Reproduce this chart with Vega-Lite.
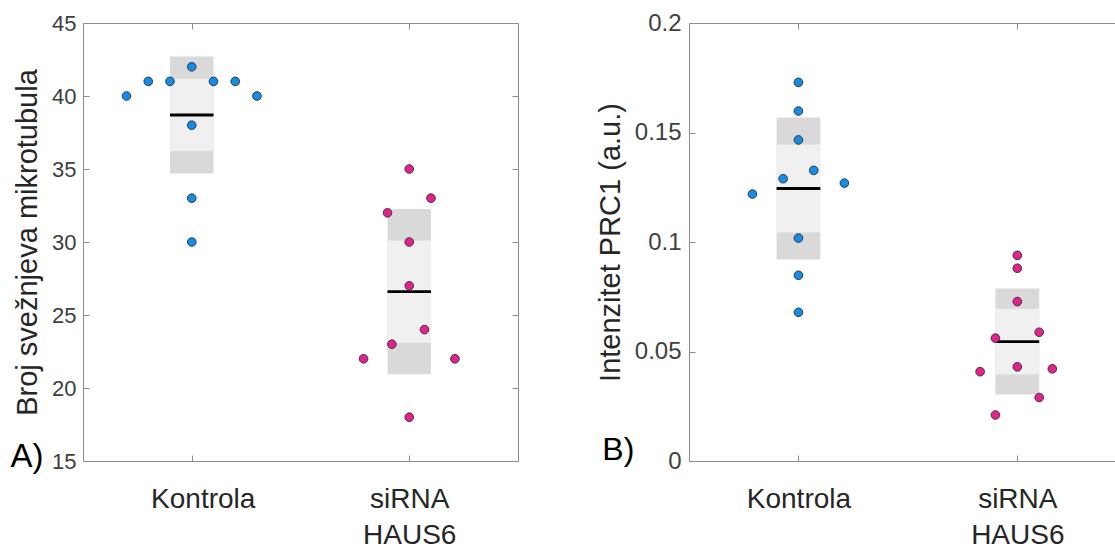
{
  "$schema": "https://vega.github.io/schema/vega-lite/v6.json",
  "background": "white",
  "padding": {"left": 10, "top": 11, "right": 0, "bottom": 0},
  "spacing": 77,
  "config": {
    "view": {"stroke": null},
    "font": "Liberation Sans",
    "axis": {
      "grid": false,
      "domainColor": "#8c8c8c",
      "tickColor": "#8c8c8c",
      "tickSize": -6,
      "labelFont": "Liberation Sans",
      "titleFont": "Liberation Sans",
      "titleFontWeight": "normal"
    }
  },
  "datasets": {
    "a": [
      {"g": "Kontrola", "gi": 1, "jit": -0.30, "v": 40},
      {"g": "Kontrola", "gi": 1, "jit": -0.20, "v": 41},
      {"g": "Kontrola", "gi": 1, "jit": -0.10, "v": 41},
      {"g": "Kontrola", "gi": 1, "jit": 0, "v": 42},
      {"g": "Kontrola", "gi": 1, "jit": 0.10, "v": 41},
      {"g": "Kontrola", "gi": 1, "jit": 0.20, "v": 41},
      {"g": "Kontrola", "gi": 1, "jit": 0.30, "v": 40},
      {"g": "Kontrola", "gi": 1, "jit": 0, "v": 38},
      {"g": "Kontrola", "gi": 1, "jit": 0, "v": 33},
      {"g": "Kontrola", "gi": 1, "jit": 0, "v": 30},
      {"g": "siRNA HAUS6", "gi": 2, "jit": 0, "v": 35},
      {"g": "siRNA HAUS6", "gi": 2, "jit": 0.10, "v": 33},
      {"g": "siRNA HAUS6", "gi": 2, "jit": -0.10, "v": 32},
      {"g": "siRNA HAUS6", "gi": 2, "jit": 0, "v": 30},
      {"g": "siRNA HAUS6", "gi": 2, "jit": 0, "v": 27},
      {"g": "siRNA HAUS6", "gi": 2, "jit": 0.07, "v": 24},
      {"g": "siRNA HAUS6", "gi": 2, "jit": -0.08, "v": 23},
      {"g": "siRNA HAUS6", "gi": 2, "jit": -0.21, "v": 22},
      {"g": "siRNA HAUS6", "gi": 2, "jit": 0.21, "v": 22},
      {"g": "siRNA HAUS6", "gi": 2, "jit": 0, "v": 18}
    ],
    "b": [
      {"g": "Kontrola", "gi": 1, "jit": 0, "v": 0.1729},
      {"g": "Kontrola", "gi": 1, "jit": 0, "v": 0.1598},
      {"g": "Kontrola", "gi": 1, "jit": 0, "v": 0.1466},
      {"g": "Kontrola", "gi": 1, "jit": 0.07, "v": 0.1327},
      {"g": "Kontrola", "gi": 1, "jit": -0.07, "v": 0.1289},
      {"g": "Kontrola", "gi": 1, "jit": 0.21, "v": 0.1269},
      {"g": "Kontrola", "gi": 1, "jit": -0.21, "v": 0.1219},
      {"g": "Kontrola", "gi": 1, "jit": 0, "v": 0.1018},
      {"g": "Kontrola", "gi": 1, "jit": 0, "v": 0.0848},
      {"g": "Kontrola", "gi": 1, "jit": 0, "v": 0.0679},
      {"g": "siRNA HAUS6", "gi": 2, "jit": 0, "v": 0.0939},
      {"g": "siRNA HAUS6", "gi": 2, "jit": 0, "v": 0.0880},
      {"g": "siRNA HAUS6", "gi": 2, "jit": 0, "v": 0.0728},
      {"g": "siRNA HAUS6", "gi": 2, "jit": 0.10, "v": 0.0588},
      {"g": "siRNA HAUS6", "gi": 2, "jit": -0.10, "v": 0.0561},
      {"g": "siRNA HAUS6", "gi": 2, "jit": 0, "v": 0.0430},
      {"g": "siRNA HAUS6", "gi": 2, "jit": 0.16, "v": 0.0421},
      {"g": "siRNA HAUS6", "gi": 2, "jit": -0.17, "v": 0.0408},
      {"g": "siRNA HAUS6", "gi": 2, "jit": 0.10, "v": 0.0290},
      {"g": "siRNA HAUS6", "gi": 2, "jit": -0.10, "v": 0.0210}
    ]
  },
  "hconcat": [
    {
      "width": 435,
      "height": 438,
      "title": {"text": "A)", "orient": "left", "anchor": "start", "angle": 0, "align": "left", "baseline": "alphabetic", "fontSize": 33, "fontWeight": "normal", "color": "#000000", "offset": -30, "dy": -82},
      "data": {"name": "a"},
      "layer": [
        {
          "transform": [
            {"aggregate": [{"op": "mean", "field": "v", "as": "m"}, {"op": "stdev", "field": "v", "as": "sd"}, {"op": "count", "as": "n"}], "groupby": ["gi"]},
            {"calculate": "datum.m - datum.sd", "as": "lo"},
            {"calculate": "datum.m + datum.sd", "as": "hi"},
            {"calculate": "datum.gi - 0.1", "as": "xl"},
            {"calculate": "datum.gi + 0.1", "as": "xr"}
          ],
          "mark": {"type": "rect", "color": "#d9d9d9"},
          "encoding": {
            "x": {"field": "xl", "type": "quantitative", "scale": {"domain": [0.5, 2.5], "nice": false, "zero": false},
              "axis": {"orient": "bottom", "values": [1, 2], "title": null, "labelFontSize": 28, "labelColor": "#262626", "labelPadding": 30, "labelLineHeight": 36,
                "labelOffset": {"condition": {"test": "datum.value == 1", "value": 11}, "value": 0},
                "labelExpr": "datum.value == 1 ? 'Kontrola' : ['siRNA', 'HAUS6']"}},
            "x2": {"field": "xr"},
            "y": {"field": "lo", "type": "quantitative", "scale": {"domain": [15, 45], "nice": false, "zero": false},
              "axis": {"orient": "left", "values": [15, 20, 25, 30, 35, 40, 45], "labelFontSize": 22, "labelColor": "#404040", "labelPadding": 13,
                "title": "Broj svežnjeva mikrotubula", "titleFontSize": 29, "titleColor": "#262626", "titlePadding": 9}},
            "y2": {"field": "hi"}
          }
        },
        {
          "transform": [
            {"aggregate": [{"op": "mean", "field": "v", "as": "m"}, {"op": "stdev", "field": "v", "as": "sd"}, {"op": "count", "as": "n"}], "groupby": ["gi"]},
            {"calculate": "datum.m - 1.96 * datum.sd / sqrt(datum.n)", "as": "clo"},
            {"calculate": "datum.m + 1.96 * datum.sd / sqrt(datum.n)", "as": "chi"},
            {"calculate": "datum.gi - 0.1", "as": "xl"},
            {"calculate": "datum.gi + 0.1", "as": "xr"}
          ],
          "mark": {"type": "rect", "color": "#f0f0f0"},
          "encoding": {
            "x": {"field": "xl", "type": "quantitative", "axis": {"orient": "top", "values": [1, 2], "labels": false, "title": null}},
            "x2": {"field": "xr"},
            "y": {"field": "clo", "type": "quantitative", "axis": {"orient": "right", "values": [15, 20, 25, 30, 35, 40, 45], "labels": false, "title": null}},
            "y2": {"field": "chi"}
          }
        },
        {
          "transform": [
            {"aggregate": [{"op": "mean", "field": "v", "as": "m"}], "groupby": ["gi"]},
            {"calculate": "datum.gi - 0.1", "as": "xl"},
            {"calculate": "datum.gi + 0.1", "as": "xr"}
          ],
          "mark": {"type": "rule", "color": "#000000", "strokeWidth": 2.8},
          "encoding": {
            "x": {"field": "xl", "type": "quantitative", "axis": null},
            "x2": {"field": "xr"},
            "y": {"field": "m", "type": "quantitative", "axis": null}
          }
        },
        {
          "transform": [{"calculate": "datum.gi + datum.jit", "as": "px"}],
          "mark": {"type": "point", "shape": "circle", "filled": true, "size": 75, "opacity": 1, "stroke": "#2b2b3a", "strokeWidth": 0.9},
          "encoding": {
            "x": {"field": "px", "type": "quantitative", "axis": null},
            "y": {"field": "v", "type": "quantitative", "axis": null},
            "fill": {"field": "g", "type": "nominal", "scale": {"domain": ["Kontrola", "siRNA HAUS6"], "range": ["#148de6", "#e6218c"]}, "legend": null}
          }
        }
      ],
      "resolve": {"axis": {"x": "independent", "y": "independent"}}
    },
    {
      "width": 429,
      "height": 438,
      "title": {"text": "B)", "orient": "left", "anchor": "start", "angle": 0, "align": "left", "baseline": "alphabetic", "fontSize": 32, "fontWeight": "normal", "color": "#000000", "offset": -38, "dy": -89},
      "data": {"name": "b"},
      "layer": [
        {
          "transform": [
            {"aggregate": [{"op": "mean", "field": "v", "as": "m"}, {"op": "stdev", "field": "v", "as": "sd"}, {"op": "count", "as": "n"}], "groupby": ["gi"]},
            {"calculate": "datum.m - datum.sd", "as": "lo"},
            {"calculate": "datum.m + datum.sd", "as": "hi"},
            {"calculate": "datum.gi - 0.1", "as": "xl"},
            {"calculate": "datum.gi + 0.1", "as": "xr"}
          ],
          "mark": {"type": "rect", "color": "#d9d9d9"},
          "encoding": {
            "x": {"field": "xl", "type": "quantitative", "scale": {"domain": [0.5, 2.46], "nice": false, "zero": false},
              "axis": {"orient": "bottom", "values": [1, 2], "title": null, "labelFontSize": 28, "labelColor": "#262626", "labelPadding": 30, "labelLineHeight": 36,
                "labelExpr": "datum.value == 1 ? 'Kontrola' : ['siRNA', 'HAUS6']"}},
            "x2": {"field": "xr"},
            "y": {"field": "lo", "type": "quantitative", "scale": {"domain": [0, 0.2], "nice": false, "zero": false},
              "axis": {"orient": "left", "values": [0, 0.05, 0.1, 0.15, 0.2], "format": "~g", "labelFontSize": 24, "labelColor": "#404040", "labelPadding": 14,
                "title": "Intenzitet PRC1 (a.u.)", "titleFontSize": 29, "titleColor": "#262626", "titlePadding": 9}},
            "y2": {"field": "hi"}
          }
        },
        {
          "transform": [
            {"aggregate": [{"op": "mean", "field": "v", "as": "m"}, {"op": "stdev", "field": "v", "as": "sd"}, {"op": "count", "as": "n"}], "groupby": ["gi"]},
            {"calculate": "datum.m - 1.96 * datum.sd / sqrt(datum.n)", "as": "clo"},
            {"calculate": "datum.m + 1.96 * datum.sd / sqrt(datum.n)", "as": "chi"},
            {"calculate": "datum.gi - 0.1", "as": "xl"},
            {"calculate": "datum.gi + 0.1", "as": "xr"}
          ],
          "mark": {"type": "rect", "color": "#f0f0f0"},
          "encoding": {
            "x": {"field": "xl", "type": "quantitative", "axis": {"orient": "top", "values": [1, 2], "labels": false, "title": null}},
            "x2": {"field": "xr"},
            "y": {"field": "clo", "type": "quantitative", "axis": null},
            "y2": {"field": "chi"}
          }
        },
        {
          "transform": [
            {"aggregate": [{"op": "mean", "field": "v", "as": "m"}], "groupby": ["gi"]},
            {"calculate": "datum.gi - 0.1", "as": "xl"},
            {"calculate": "datum.gi + 0.1", "as": "xr"}
          ],
          "mark": {"type": "rule", "color": "#000000", "strokeWidth": 2.8},
          "encoding": {
            "x": {"field": "xl", "type": "quantitative", "axis": null},
            "x2": {"field": "xr"},
            "y": {"field": "m", "type": "quantitative", "axis": null}
          }
        },
        {
          "transform": [{"calculate": "datum.gi + datum.jit", "as": "px"}],
          "mark": {"type": "point", "shape": "circle", "filled": true, "size": 75, "opacity": 1, "stroke": "#2b2b3a", "strokeWidth": 0.9},
          "encoding": {
            "x": {"field": "px", "type": "quantitative", "axis": null},
            "y": {"field": "v", "type": "quantitative", "axis": null},
            "fill": {"field": "g", "type": "nominal", "scale": {"domain": ["Kontrola", "siRNA HAUS6"], "range": ["#148de6", "#e6218c"]}, "legend": null}
          }
        }
      ],
      "resolve": {"axis": {"x": "independent", "y": "independent"}}
    }
  ]
}
